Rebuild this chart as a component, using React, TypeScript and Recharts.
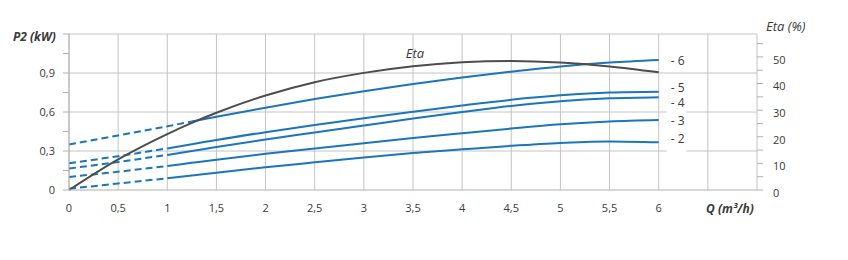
import { LineChart, Line, XAxis, YAxis, CartesianGrid, ReferenceLine } from "recharts";

// flow Q (m3/h) where the curves were read
const flow = [0, 0.5, 1, 1.25, 1.5, 2, 2.5, 3, 3.5, 4, 4.5, 5, 5.5, 6];

// P2 (kW) per speed step
const p6 = [0.35, 0.42, 0.49, 0.527, 0.563, 0.633, 0.7, 0.76, 0.815, 0.865, 0.91, 0.95, 0.98, 1.0];
const p5 = [0.205, 0.26, 0.32, 0.352, 0.385, 0.445, 0.5, 0.552, 0.602, 0.65, 0.694, 0.728, 0.75, 0.756];
const p4 = [0.165, 0.215, 0.27, 0.3, 0.33, 0.388, 0.442, 0.496, 0.55, 0.6, 0.647, 0.683, 0.705, 0.714];
const p3 = [0.1, 0.14, 0.185, 0.209, 0.233, 0.278, 0.32, 0.36, 0.4, 0.437, 0.473, 0.505, 0.527, 0.538];
const p2 = [0.01, 0.05, 0.09, 0.111, 0.133, 0.175, 0.213, 0.25, 0.284, 0.313, 0.34, 0.362, 0.374, 0.367];

// efficiency (%)
const eta = [0, 11.5, 21, 25.2, 29, 35.5, 40.5, 44, 46.5, 48, 48.5, 47.9, 46.4, 44.2];

// where the dashed (extrapolated) part of each curve ends
const seriesList = [
  { name: "6", values: p6, dashEnd: 1.25, dy: 0 },
  { name: "5", values: p5, dashEnd: 1, dy: -5 },
  { name: "4", values: p4, dashEnd: 1, dy: 5 },
  { name: "3", values: p3, dashEnd: 1, dy: 0 },
  { name: "2", values: p2, dashEnd: 1, dy: -4 },
];

const xTicks = [0, 0.5, 1, 1.5, 2, 2.5, 3, 3.5, 4, 4.5, 5, 5.5, 6, 6.5, 7];
const pTicks = [0, 0.15, 0.3, 0.45, 0.6, 0.75, 0.9, 1.05, 1.2];
const pLabels = [0, 0.3, 0.6, 0.9];
const etaTicks = [0, 5, 10, 15, 20, 25, 30, 35, 40, 45, 50, 55];

const BLUE = "#1b75bc";
const GRID = "#c4c4c4";
const FONT = "'Open Sans', sans-serif";
const TXT = "#3a3a3a";

const comma = (v: number) => String(v).replace(".", ",");

const App = () => {
  const etaData = flow.map((q, i) => ({ q, eta: eta[i] }));
  const tick = { fontFamily: FONT, fontSize: 11, fill: TXT };

  return (
    <div style={{ position: "absolute", left: 0, top: 0, width: 848, height: 260 }}>
      <LineChart width={848} height={260} margin={{ top: 34, right: 51, left: 29, bottom: 40 }}>
        <CartesianGrid horizontal={false} stroke={GRID} />
        <XAxis
          dataKey="q"
          type="number"
          domain={[0, 7]}
          ticks={xTicks}
          tickFormatter={(v: number) => (v <= 6 ? comma(v) : "")}
          tickLine={false}
          axisLine={{ stroke: "#b0b0b0" }}
          tickMargin={8}
          tick={tick}
          height={30}
        />
        <YAxis
          domain={[0, 1.2]}
          ticks={pTicks}
          tickFormatter={(v: number) => (pLabels.includes(v) ? comma(v) : "")}
          axisLine={{ stroke: "#b0b0b0" }}
          tickLine={{ stroke: "#b0b0b0" }}
          tickSize={6}
          tickMargin={8}
          tick={tick}
          width={40}
        />
        <YAxis
          yAxisId="eta"
          orientation="right"
          domain={[0, 58.6]}
          ticks={etaTicks}
          tickFormatter={(v: number) => (v % 10 === 0 ? String(v) : "")}
          axisLine={false}
          tickLine={{ stroke: "#b0b0b0" }}
          tickSize={6}
          tickMargin={10}
          tick={{ ...tick, dy: 3 }}
          width={40}
        />
        <ReferenceLine y={1.2} stroke={GRID} />
        <ReferenceLine y={0.9} stroke={GRID} />
        <ReferenceLine segment={[{ x: 0, y: 0.6 }, { x: 6.08, y: 0.6 }]} stroke={GRID} />
        <ReferenceLine segment={[{ x: 6.28, y: 0.6 }, { x: 7, y: 0.6 }]} stroke={GRID} />
        <ReferenceLine segment={[{ x: 0, y: 0.3 }, { x: 6.08, y: 0.3 }]} stroke={GRID} />
        <ReferenceLine segment={[{ x: 6.28, y: 0.3 }, { x: 7, y: 0.3 }]} stroke={GRID} />

        {seriesList.map((s) => {
          const pts = flow.map((q, i) => ({ q, p: s.values[i] }));
          const dashed = pts.filter((d) => d.q <= s.dashEnd);
          const solid = pts.filter((d) => d.q >= s.dashEnd);
          return [
            <Line
              key={s.name + "d"}
              data={dashed}
              dataKey="p"
              type="linear"
              stroke={BLUE}
              strokeWidth={2}
              strokeDasharray="7 4"
              dot={false}
              isAnimationActive={false}
            />,
            <Line
              key={s.name + "s"}
              data={solid}
              dataKey="p"
              type="monotone"
              stroke={BLUE}
              strokeWidth={2}
              dot={false}
              isAnimationActive={false}
              label={(props: any) =>
                props.index === solid.length - 1 ? (
                  <text
                    key={"l" + s.name}
                    x={props.x + 12}
                    y={props.y + 5 + s.dy}
                    fontFamily={FONT}
                    fontSize={12}
                    fill={TXT}
                  >
                    - {s.name}
                  </text>
                ) : (
                  <g key={"n" + s.name + props.index} />
                )
              }
            />,
          ];
        })}

        <Line
          yAxisId="eta"
          data={etaData}
          dataKey="eta"
          type="monotone"
          stroke="#4d4d4d"
          strokeWidth={2}
          dot={false}
          isAnimationActive={false}
          label={(props: any) =>
            etaData[props.index].q === 3.5 ? (
              <text
                key="etaLabel"
                x={props.x + 2}
                y={props.y - 8}
                textAnchor="middle"
                fontFamily={FONT}
                fontStyle="italic"
                fontSize={13}
                fill={TXT}
              >
                Eta
              </text>
            ) : (
              <g key={"e" + props.index} />
            )
          }
        />
      </LineChart>

      <div style={{ position: "absolute", left: 13, top: 28, fontFamily: FONT, fontSize: 12, fontWeight: 700, fontStyle: "italic", color: TXT }}>
        P2 (kW)
      </div>
      <div style={{ position: "absolute", left: 766, top: 17, fontFamily: FONT, fontSize: 13, fontStyle: "italic", color: TXT }}>
        Eta (%)
      </div>
      <div style={{ position: "absolute", left: 706, top: 200, fontFamily: FONT, fontSize: 12, fontWeight: 700, fontStyle: "italic", color: TXT }}>
        Q (m³/h)
      </div>
    </div>
  );
};

export default App;
